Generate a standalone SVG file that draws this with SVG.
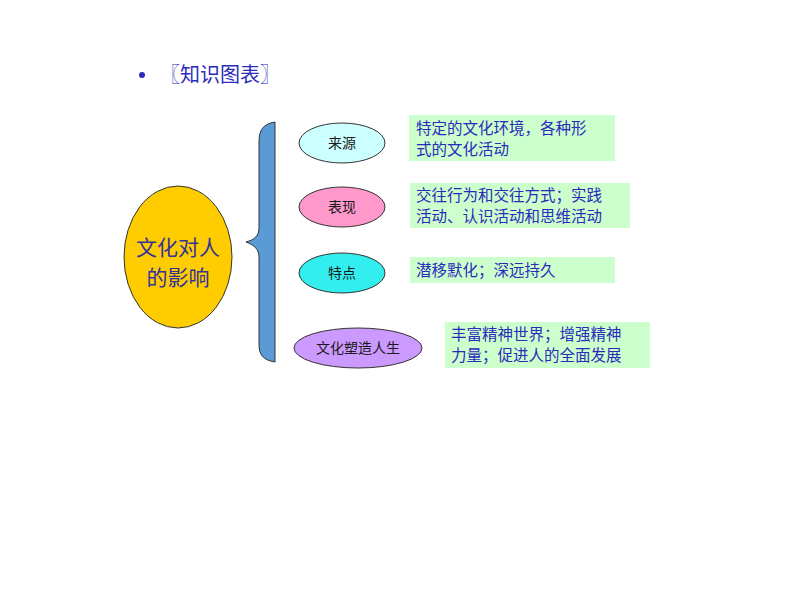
<svg xmlns="http://www.w3.org/2000/svg" width="800" height="600" viewBox="0 0 800 600">
<style>
text{font-family:"Noto Sans CJK SC","Liberation Sans",sans-serif}
.lbl{font-size:14px;fill:#1a1a1a;text-anchor:middle}
.box{fill:#ccffcc}
.bt{font-size:15.5px;fill:#2b2bbb}
.ell{stroke:#333;stroke-width:1}
</style>
<rect width="800" height="600" fill="#fff"/>
<g id="title">
<circle cx="142" cy="75" r="3" fill="#2b2bbb"/>
<text x="160" y="82" font-size="20" fill="#2b2bbb">〖知识图表〗</text>
</g>
<g id="main">
<ellipse cx="178" cy="257" rx="54" ry="71" fill="#ffcc00" stroke="#333" stroke-width="1"/>
<text x="178" y="255" font-size="21" fill="#333399" text-anchor="middle">文化对人</text>
<text x="178" y="285" font-size="21" fill="#333399" text-anchor="middle">的影响</text>
</g>
<g id="connectors">
<path d="M275,122 C263,124 259,130 259,142 L259,228 C259,236 254,240 246,242 C254,245 259,249 259,257 L259,344 C259,355 263,360 275,362 Z" fill="#5b9bd5" stroke="#333" stroke-width="1"/>
</g>
<g id="n1">
<ellipse class="ell" cx="342" cy="143" rx="43" ry="20" fill="#ccffff"/>
<text class="lbl" x="342" y="148">来源</text>
</g>
<g id="n2">
<ellipse class="ell" cx="342" cy="207" rx="43" ry="20" fill="#ff99cc"/>
<text class="lbl" x="342" y="212">表现</text>
</g>
<g id="n3">
<ellipse class="ell" cx="342" cy="273" rx="43" ry="20" fill="#33eeee"/>
<text class="lbl" x="342" y="278">特点</text>
</g>
<g id="n4">
<ellipse class="ell" cx="358" cy="348" rx="64" ry="20" fill="#cc99ff"/>
<text class="lbl" x="358" y="353">文化塑造人生</text>
</g>
<g id="b1">
<rect class="box" x="409" y="115" width="206" height="46"/>
<text class="bt" x="416" y="134">特定的文化环境，各种形</text>
<text class="bt" x="416" y="155">式的文化活动</text>
</g>
<g id="b2">
<rect class="box" x="410" y="183" width="220" height="45"/>
<text class="bt" x="416" y="201">交往行为和交往方式；实践</text>
<text class="bt" x="416" y="222">活动、认识活动和思维活动</text>
</g>
<g id="b3">
<rect class="box" x="410" y="257" width="205" height="26"/>
<text class="bt" x="416" y="276">潜移默化；深远持久</text>
</g>
<g id="b4">
<rect class="box" x="445" y="322" width="205" height="46"/>
<text class="bt" x="451" y="340">丰富精神世界；增强精神</text>
<text class="bt" x="451" y="361">力量；促进人的全面发展</text>
</g>
</svg>
